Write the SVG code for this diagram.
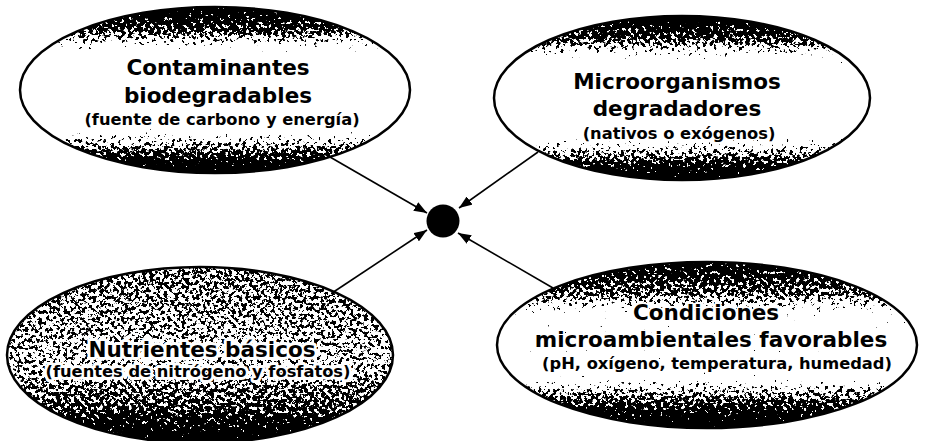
<svg xmlns="http://www.w3.org/2000/svg" width="926" height="441" viewBox="0 0 926 441">
<style>
.base{fill:#fff;stroke:none}
.rim{fill:none;stroke:#000;stroke-width:2.5}
.t{font-family:"DejaVu Sans",Verdana,sans-serif;font-weight:bold;fill:#000;text-anchor:middle;stroke:#fff;stroke-width:3.5;stroke-linejoin:round;paint-order:stroke}
.halo{stroke-width:6}
.h{font-size:21.5px}
.s{font-size:16.3px}
.c{stroke:#000;stroke-width:1.6;fill:none;marker-end:url(#ah)}
</style>
<defs>
<marker id="ah" markerUnits="userSpaceOnUse" markerWidth="14" markerHeight="10" refX="13" refY="5" orient="auto">
<path d="M0,0 L13,5 L0,10 z" fill="#000"/>
</marker>
<filter id="dither" x="0" y="0" width="100%" height="100%" color-interpolation-filters="sRGB">
<feTurbulence type="fractalNoise" baseFrequency="0.28" numOctaves="3" seed="7" result="n0"/>
<feColorMatrix in="n0" type="matrix" values="1 0 0 0 0  1 0 0 0 0  1 0 0 0 0  0 0 0 0 1" result="n"/>
<feComposite in="SourceGraphic" in2="n" operator="arithmetic" k1="0" k2="1" k3="-1" k4="1" result="d"/>
<feColorMatrix in="d" type="matrix" values="0 0 0 0 0  0 0 0 0 0  0 0 0 0 0  -30 0 0 0 30" result="blk"/>
<feComposite in="blk" in2="SourceAlpha" operator="in"/>
</filter>
<linearGradient id="gTop" x1="0" y1="0" x2="0" y2="1">
<stop offset="0" stop-color="#333"/>
<stop offset="0.14" stop-color="#6a6a6a"/>
<stop offset="0.27" stop-color="#cfcfcf"/>
<stop offset="0.31" stop-color="#fff"/>
<stop offset="0.7" stop-color="#fff"/>
<stop offset="0.76" stop-color="#bdbdbd"/>
<stop offset="0.9" stop-color="#5a5a5a"/>
<stop offset="1" stop-color="#222"/>
</linearGradient>
<linearGradient id="gBL" x1="0" y1="0" x2="0" y2="1">
<stop offset="0" stop-color="#7a7a7a"/>
<stop offset="0.3" stop-color="#858585"/>
<stop offset="0.55" stop-color="#8c8c8c"/>
<stop offset="0.8" stop-color="#6a6a6a"/>
<stop offset="1" stop-color="#2a2a2a"/>
</linearGradient>
<linearGradient id="gBR" x1="0" y1="0" x2="0" y2="1">
<stop offset="0" stop-color="#444"/>
<stop offset="0.2" stop-color="#7a7a7a"/>
<stop offset="0.32" stop-color="#c8c8c8"/>
<stop offset="0.68" stop-color="#d8d8d8"/>
<stop offset="0.78" stop-color="#8a8a8a"/>
<stop offset="1" stop-color="#1e1e1e"/>
</linearGradient>
</defs>
<rect width="926" height="441" fill="#fff"/>

<g id="connectors">
<line class="c" x1="330" y1="157" x2="427" y2="213"/>
<line class="c" x1="538" y1="152" x2="459" y2="208"/>
<line class="c" x1="332" y1="293" x2="427" y2="230"/>
<line class="c" x1="553" y1="288" x2="458" y2="233"/>
</g>

<g id="node-contaminantes">
<ellipse class="base" cx="215" cy="90" rx="195" ry="83"/>
<ellipse cx="215" cy="90" rx="195" ry="83" fill="url(#gTop)" filter="url(#dither)"/>
<ellipse class="rim" cx="215" cy="90" rx="195" ry="83"/>
<text class="t h" x="218" y="75">Contaminantes</text>
<text class="t h" x="218" y="103">biodegradables</text>
<text class="t s" x="222" y="125">(fuente de carbono y energía)</text>
</g>

<g id="node-microorganismos">
<ellipse class="base" cx="682" cy="98" rx="188" ry="82"/>
<ellipse cx="682" cy="98" rx="188" ry="82" fill="url(#gTop)" filter="url(#dither)"/>
<ellipse class="rim" cx="682" cy="98" rx="188" ry="82"/>
<text class="t h" x="677" y="89">Microorganismos</text>
<text class="t h" x="677" y="116">degradadores</text>
<text class="t s" x="679" y="139">(nativos o exógenos)</text>
</g>

<g id="node-nutrientes">
<ellipse class="base" cx="200" cy="355" rx="193" ry="88"/>
<ellipse cx="200" cy="355" rx="193" ry="88" fill="url(#gBL)" filter="url(#dither)"/>
<ellipse class="rim" cx="200" cy="355" rx="193" ry="88"/>
<text class="t h halo" x="202" y="357">Nutrientes básicos</text>
<text class="t s halo" x="198" y="377">(fuentes de nitrógeno y fosfatos)</text>
</g>

<g id="node-condiciones">
<ellipse class="base" cx="707" cy="345" rx="210" ry="83"/>
<ellipse cx="707" cy="345" rx="210" ry="83" fill="url(#gBR)" filter="url(#dither)"/>
<ellipse class="rim" cx="707" cy="345" rx="210" ry="83"/>
<text class="t h" x="706" y="320">Condiciones</text>
<text class="t h" x="711" y="347">microambientales favorables</text>
<text class="t s" x="717" y="369">(pH, oxígeno, temperatura, humedad)</text>
</g>

<g id="node-centro">
<circle cx="443" cy="221" r="16.5" fill="#000"/>
</g>
</svg>
